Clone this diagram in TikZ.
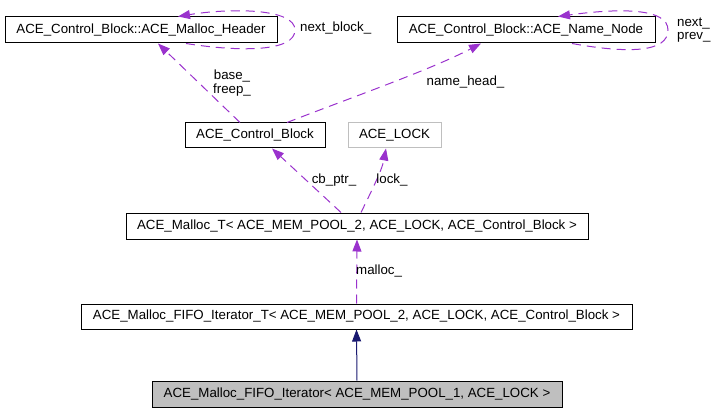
\documentclass[tikz,border=0pt]{standalone}
\usepackage{fontspec}
\setmainfont{Liberation Sans}
\usetikzlibrary{arrows.meta}
\definecolor{dep}{HTML}{9A32CD}
\definecolor{inh}{HTML}{191970}
\definecolor{lgrey}{HTML}{BFBFBF}
\tikzset{
  cls/.style={draw=black, line width=1pt, inner sep=0pt, minimum height=26pt, font=\fontsize{13.3}{15}\selectfont, text height=9.6pt, text depth=2.8pt},
  lbl/.style={inner sep=0pt, font=\fontsize{13.3}{15}\selectfont, text height=9.6pt, text depth=2.8pt},
  usage/.style={draw=dep, line width=1pt, dash pattern=on 9pt off 6pt, -{Triangle[length=12pt,width=9pt]}, fill=none},
  inherit/.style={draw=inh, line width=1pt, -{Triangle[length=12pt,width=9pt]}},
}
\begin{document}
\begin{tikzpicture}[x=1pt,y=-1pt]
\useasboundingbox (0,0) rectangle (716,412);
\node[cls, minimum width=272pt] (MH) at (141,30) {ACE\_Control\_Block::ACE\_Malloc\_Header};
\node[cls, minimum width=258pt] (NN) at (526,30) {ACE\_Control\_Block::ACE\_Name\_Node};
\node[cls, minimum width=140pt, minimum height=25pt] (CB) at (255,135.5) {ACE\_Control\_Block};
\node[cls, draw=lgrey, minimum width=93pt, minimum height=25pt] (LK) at (394.5,135.5) {ACE\_LOCK};
\node[cls, minimum width=462pt] (MT) at (357,226) {ACE\_Malloc\_T< ACE\_MEM\_POOL\_2, ACE\_LOCK, ACE\_Control\_Block >};
\node[cls, minimum width=551pt, minimum height=25pt] (FT) at (356.5,316.5) {ACE\_Malloc\_FIFO\_Iterator\_T< ACE\_MEM\_POOL\_2, ACE\_LOCK, ACE\_Control\_Block >};
\node[cls, fill=lgrey, minimum width=410pt] (FI) at (357,394) {ACE\_Malloc\_FIFO\_Iterator< ACE\_MEM\_POOL\_1, ACE\_LOCK >};

% inheritance
\draw[inherit] (FI.north) -- (FT.south);
% usage edges
\draw[usage] (FT.north) -- (MT.south);
\draw[usage] ([xshift=-16pt]MT.north) -- ([xshift=17pt]CB.south);
\draw[usage] ([xshift=4pt]MT.north) .. controls (372,190) and (382,170) .. ([xshift=-8.5pt]LK.south);
\draw[usage] ([xshift=-15pt]CB.north) -- ([xshift=17pt]MH.south);
\draw[usage] ([xshift=32pt]CB.north) .. controls (350,98) and (430,70) .. ([xshift=-45pt]NN.south);
\draw[usage] ([xshift=45pt]MH.south) .. controls (240,52) and (295,52) .. (295,30) .. controls (295,8) and (230,8) .. ([xshift=37pt]MH.north);
\draw[usage] ([xshift=46pt]NN.south) .. controls (630,54) and (668,52) .. (668,30) .. controls (668,8) and (620,8) .. ([xshift=32pt]NN.north);

% labels
\node[lbl, anchor=west] (l1) at (300,28) {next\_block\_};
\node[lbl] (l2) at (232,76) {base\_};
\node[lbl] (l3) at (232,90) {freep\_};
\node[lbl] (l4) at (465.5,82) {name\_head\_};
\node[lbl] (l5) at (334,180) {cb\_ptr\_};
\node[lbl] (l6) at (392,180) {lock\_};
\node[lbl, anchor=west] (l7) at (356,271) {malloc\_};
\node[lbl, anchor=west] (l8) at (677,23) {next\_};
\node[lbl, anchor=west] (l9) at (677,36) {prev\_};
\end{tikzpicture}
\end{document}
